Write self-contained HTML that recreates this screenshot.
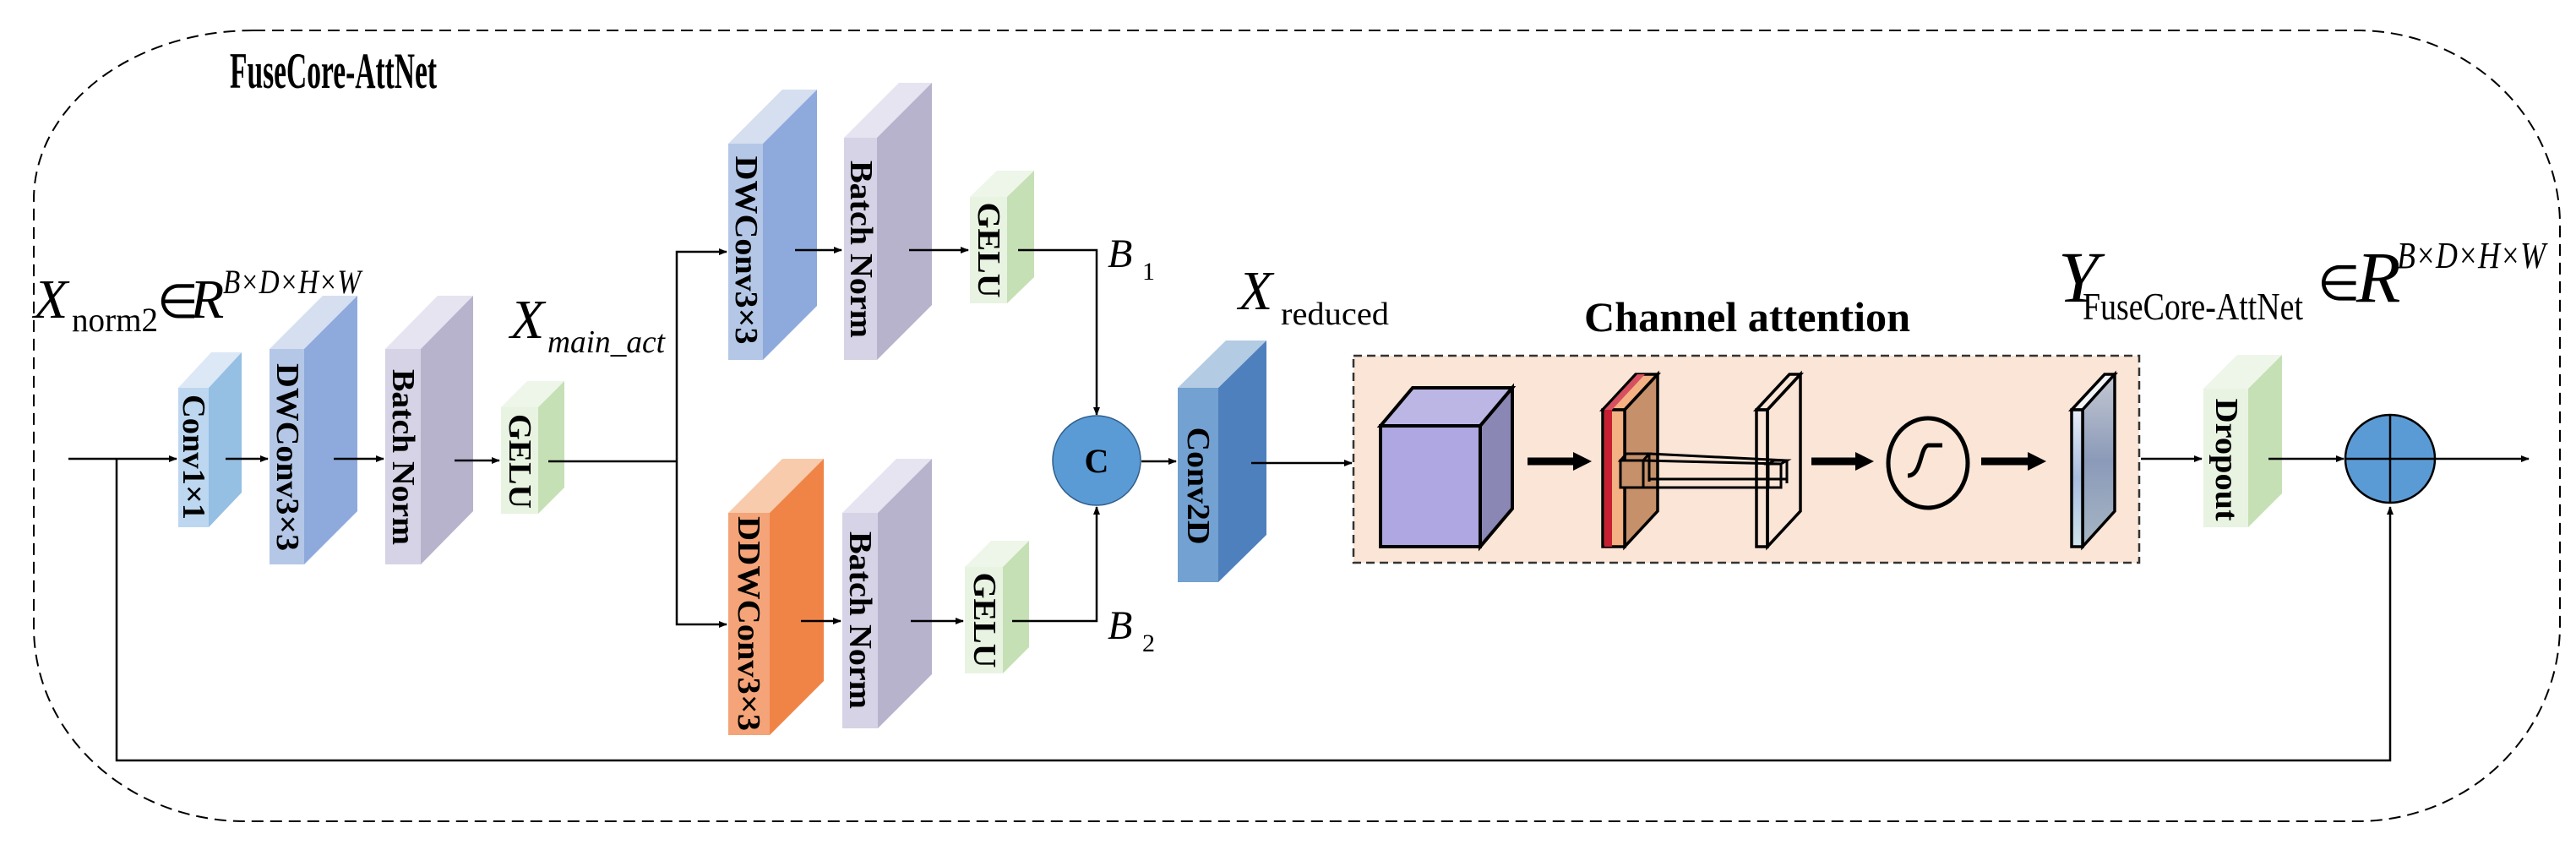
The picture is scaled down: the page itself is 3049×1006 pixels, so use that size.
<!DOCTYPE html>
<html><head><meta charset="utf-8"><style>
html,body{margin:0;padding:0;background:#fff;}
svg{display:block;}
text{font-family:"Liberation Serif","Times New Roman",serif;}
.lbl{font-weight:bold;font-size:38px;}
</style></head><body>
<svg width="3049" height="1006" viewBox="0 0 3049 1006" xmlns="http://www.w3.org/2000/svg">
<defs>
<marker id="ah" markerWidth="10" markerHeight="8" refX="9" refY="4" orient="auto" markerUnits="userSpaceOnUse">
<path d="M0,0 L10,4 L0,8 Z" fill="#000"/></marker>
<marker id="ahb" markerWidth="22" markerHeight="22" refX="4" refY="11" orient="auto" markerUnits="userSpaceOnUse">
<path d="M0,0 L22,11 L0,22 Z" fill="#000"/></marker>
<linearGradient id="gp" x1="0" y1="0" x2="0" y2="1">
<stop offset="0" stop-color="#c4c8d2"/><stop offset="0.5" stop-color="#8b9ab9"/><stop offset="1" stop-color="#a6b6c4"/></linearGradient>
<linearGradient id="gf" x1="0" y1="0" x2="0" y2="1">
<stop offset="0" stop-color="#e6eef8"/><stop offset="0.5" stop-color="#a9bde0"/><stop offset="1" stop-color="#cfe6ec"/></linearGradient>
</defs>

<path d="M300,36 L2790,36 A240,230 0 0 1 3030,266 L3030,740 A240,232 0 0 1 2790,972 L290,972 A250,230 0 0 1 40,742 L40,236 A260,200 0 0 1 300,36 Z" fill="none" stroke="#000" stroke-width="2" stroke-dasharray="14,8"/>

<text x="272" y="104" font-size="60" font-weight="bold" textLength="245" lengthAdjust="spacingAndGlyphs">FuseCore-AttNet</text>

<line x1="81" y1="543" x2="209" y2="543" stroke="#000" stroke-width="2.5" marker-end="url(#ah)"/>
<polyline points="138,543 138,900 2829,900 2829,600" fill="none" stroke="#000" stroke-width="2.5" marker-end="url(#ah)"/>

<polygon points="211,459 250,417 286,417 247,459" fill="#dce8f5"/>
<polygon points="247,459 286,417 286,583 247,624" fill="#95bfe3"/>
<rect x="211" y="459" width="36" height="165" fill="#bcd7ef"/>
<text class="lbl" transform="translate(229,541) rotate(90)" text-anchor="middle" dominant-baseline="central" textLength="148" lengthAdjust="spacingAndGlyphs">Conv1×1</text>
<line x1="267" y1="543" x2="317" y2="543" stroke="#000" stroke-width="2.5" marker-end="url(#ah)"/>

<polygon points="319,413 382,350 423,350 360,413" fill="#d5dff0"/>
<polygon points="360,413 423,350 423,605 360,668" fill="#8eaadc"/>
<rect x="319" y="413" width="41" height="255" fill="#b4c7e7"/>
<text class="lbl" transform="translate(340,541) rotate(90)" text-anchor="middle" dominant-baseline="central" textLength="222" lengthAdjust="spacingAndGlyphs">DWConv3×3</text>
<line x1="395" y1="543" x2="454" y2="543" stroke="#000" stroke-width="2.5" marker-end="url(#ah)"/>

<polygon points="456,413 518,350 560,350 498,413" fill="#e6e4f0"/>
<polygon points="498,413 560,350 560,605 498,668" fill="#b7b3cd"/>
<rect x="456" y="413" width="42" height="255" fill="#d5d3e5"/>
<text class="lbl" transform="translate(477,541) rotate(90)" text-anchor="middle" dominant-baseline="central" textLength="208" lengthAdjust="spacingAndGlyphs">Batch Norm</text>
<line x1="538" y1="545" x2="591" y2="545" stroke="#000" stroke-width="2.5" marker-end="url(#ah)"/>

<polygon points="593,482 624,451 668,451 637,482" fill="#eef6ea"/>
<polygon points="637,482 668,451 668,577 637,608" fill="#c6e0b5"/>
<rect x="593" y="482" width="44" height="126" fill="#e8f3e2"/>
<text class="lbl" transform="translate(615,546) rotate(90)" text-anchor="middle" dominant-baseline="central" textLength="112" lengthAdjust="spacingAndGlyphs">GELU</text>
<line x1="649" y1="546" x2="801" y2="546" stroke="#000" stroke-width="2.5"/>

<text x="40" y="376" font-size="66" font-style="italic">X</text>
<text x="85" y="392" font-size="40" textLength="102" lengthAdjust="spacingAndGlyphs">norm2</text>
<text x="186" y="376" font-size="56">∈</text>
<text x="225" y="376" font-size="66" font-style="italic">R</text>
<text x="264" y="347" font-size="40" font-style="italic" textLength="163" lengthAdjust="spacingAndGlyphs">B×D×H×W</text>

<text x="604" y="400" font-size="66" font-style="italic">X</text>
<text x="648" y="417" font-size="38" font-style="italic" textLength="139" lengthAdjust="spacingAndGlyphs">main_act</text>

<polyline points="801,546 801,298 860,298" fill="none" stroke="#000" stroke-width="2.5" marker-end="url(#ah)"/>
<polyline points="801,546 801,739 860,739" fill="none" stroke="#000" stroke-width="2.5" marker-end="url(#ah)"/>

<polygon points="862,170 926,106 967,106 903,170" fill="#d5dff0"/>
<polygon points="903,170 967,106 967,362 903,426" fill="#8eaadc"/>
<rect x="862" y="170" width="41" height="256" fill="#b4c7e7"/>
<text class="lbl" transform="translate(883,296) rotate(90)" text-anchor="middle" dominant-baseline="central" textLength="223" lengthAdjust="spacingAndGlyphs">DWConv3×3</text>
<line x1="941" y1="296" x2="996" y2="296" stroke="#000" stroke-width="2.5" marker-end="url(#ah)"/>

<polygon points="999,163 1064,98 1103,98 1038,163" fill="#e6e4f0"/>
<polygon points="1038,163 1103,98 1103,361 1038,426" fill="#b7b3cd"/>
<rect x="999" y="163" width="39" height="263" fill="#d5d3e5"/>
<text class="lbl" transform="translate(1019,295) rotate(90)" text-anchor="middle" dominant-baseline="central" textLength="210" lengthAdjust="spacingAndGlyphs">Batch Norm</text>
<line x1="1076" y1="296" x2="1146" y2="296" stroke="#000" stroke-width="2.5" marker-end="url(#ah)"/>

<polygon points="1148,233 1180,202 1224,202 1192,233" fill="#eef6ea"/>
<polygon points="1192,233 1224,202 1224,328 1192,359" fill="#c6e0b5"/>
<rect x="1148" y="233" width="44" height="126" fill="#e8f3e2"/>
<text class="lbl" transform="translate(1170,296) rotate(90)" text-anchor="middle" dominant-baseline="central" textLength="113" lengthAdjust="spacingAndGlyphs">GELU</text>
<polyline points="1205,296 1298,296 1298,491" fill="none" stroke="#000" stroke-width="2.5" marker-end="url(#ah)"/>
<text x="1311" y="316" font-size="48" font-style="italic">B</text>
<text x="1352" y="331" font-size="30">1</text>

<polygon points="862,607 926,543 975,543 911,607" fill="#f8cbad"/>
<polygon points="911,607 975,543 975,806 911,870" fill="#f08447"/>
<rect x="862" y="607" width="49" height="263" fill="#f4a478"/>
<text class="lbl" transform="translate(886,738) rotate(90)" text-anchor="middle" dominant-baseline="central" textLength="254" lengthAdjust="spacingAndGlyphs">DDWConv3×3</text>
<line x1="948" y1="735" x2="995" y2="735" stroke="#000" stroke-width="2.5" marker-end="url(#ah)"/>

<polygon points="997,607 1061,543 1103,543 1039,607" fill="#e6e4f0"/>
<polygon points="1039,607 1103,543 1103,798 1039,862" fill="#b7b3cd"/>
<rect x="997" y="607" width="42" height="255" fill="#d5d3e5"/>
<text class="lbl" transform="translate(1018,734) rotate(90)" text-anchor="middle" dominant-baseline="central" textLength="210" lengthAdjust="spacingAndGlyphs">Batch Norm</text>
<line x1="1078" y1="735" x2="1140" y2="735" stroke="#000" stroke-width="2.5" marker-end="url(#ah)"/>

<polygon points="1142,671 1173,640 1218,640 1187,671" fill="#eef6ea"/>
<polygon points="1187,671 1218,640 1218,766 1187,797" fill="#c6e0b5"/>
<rect x="1142" y="671" width="45" height="126" fill="#e8f3e2"/>
<text class="lbl" transform="translate(1165,734) rotate(90)" text-anchor="middle" dominant-baseline="central" textLength="113" lengthAdjust="spacingAndGlyphs">GELU</text>
<polyline points="1198,735 1298,735 1298,600" fill="none" stroke="#000" stroke-width="2.5" marker-end="url(#ah)"/>
<text x="1311" y="756" font-size="48" font-style="italic">B</text>
<text x="1352" y="771" font-size="30">2</text>

<ellipse cx="1298" cy="545" rx="52" ry="53" fill="#5b9bd5" stroke="#2f5d8a" stroke-width="1.5"/>
<text x="1298" y="559" font-size="40" font-weight="bold" text-anchor="middle">C</text>
<line x1="1351" y1="546" x2="1392" y2="546" stroke="#000" stroke-width="2.5" marker-end="url(#ah)"/>

<polygon points="1394,459 1451,403 1499,403 1442,459" fill="#b3cbe3"/>
<polygon points="1442,459 1499,403 1499,633 1442,689" fill="#4e80bd"/>
<rect x="1394" y="459" width="48" height="230" fill="#73a1d1"/>
<text class="lbl" transform="translate(1418,575) rotate(90)" text-anchor="middle" dominant-baseline="central" textLength="139" lengthAdjust="spacingAndGlyphs">Conv2D</text>
<line x1="1481" y1="548" x2="1600" y2="548" stroke="#000" stroke-width="2.5" marker-end="url(#ah)"/>
<text x="1466" y="366" font-size="66" font-style="italic">X</text>
<text x="1516" y="384" font-size="38" textLength="128" lengthAdjust="spacingAndGlyphs">reduced</text>

<text x="1875" y="392" font-size="50" font-weight="bold" textLength="386" lengthAdjust="spacingAndGlyphs">Channel attention</text>
<rect x="1602" y="421" width="930" height="245" fill="#fae5d6" stroke="#333" stroke-width="2.5" stroke-dasharray="10,6"/>

<g stroke="#000" stroke-width="4" stroke-linejoin="miter">
<polygon points="1634,504 1672,459 1790,459 1752,504" fill="#bbb6e4"/>
<polygon points="1752,504 1790,459 1790,602 1752,647" fill="#8b87b4"/>
<rect x="1634" y="504" width="118" height="143" fill="#aea7e1"/>
</g>
<line x1="1808" y1="546" x2="1866" y2="546" stroke="#000" stroke-width="9" marker-end="url(#ahb)"/>

<g stroke="#000" stroke-width="3.5">
<polygon points="1897,485 1936,443 1962,443 1923,485" fill="#f4b183"/>
<polygon points="1923,485 1962,443 1962,605 1923,647" fill="#c5906a"/>
<rect x="1897" y="485" width="26" height="162" fill="#f4b183"/>
<rect x="1899" y="485" width="9" height="162" fill="#c81e32" stroke="none"/>
<polygon points="1899,485 1938,443 1947,443 1908,485" fill="#d6505f" stroke="none"/>
</g>
<g stroke="#000" stroke-width="3" fill="none">
<rect x="1918" y="545" width="27" height="32" fill="#c5906a"/>
<polygon points="1918,545 1925,537 1952,537 1945,545"/>
<line x1="1952" y1="537" x2="1952" y2="570"/>
<line x1="1952" y1="537" x2="2115" y2="545"/>
<line x1="1945" y1="545" x2="2108" y2="549"/>
<line x1="1952" y1="567" x2="2115" y2="567"/>
<line x1="1945" y1="577" x2="2108" y2="577"/>
<rect x="2093" y="549" width="15" height="28"/>
<polygon points="2093,549 2100,545 2115,545 2108,549"/>
<line x1="2115" y1="545" x2="2115" y2="572"/>
</g>
<g stroke="#000" stroke-width="3.5" fill="none">
<polygon points="2079,485 2118,443 2131,443 2092,485"/>
<polygon points="2092,485 2131,443 2131,605 2092,647"/>
<rect x="2079" y="485" width="13" height="162"/>
</g>
<line x1="2144" y1="546" x2="2200" y2="546" stroke="#000" stroke-width="9" marker-end="url(#ahb)"/>
<ellipse cx="2282" cy="548" rx="47" ry="53" fill="none" stroke="#000" stroke-width="5"/>
<path d="M2258,563 C2275,563 2272,530 2282,527 L2299,527" fill="none" stroke="#000" stroke-width="5"/>
<line x1="2345" y1="546" x2="2404" y2="546" stroke="#000" stroke-width="9" marker-end="url(#ahb)"/>
<g stroke="#000" stroke-width="3.5">
<polygon points="2452,485 2491,443 2503,443 2465,485" fill="#f2f4f8"/>
<polygon points="2465,485 2503,443 2503,605 2465,647" fill="url(#gp)"/>
<rect x="2452" y="485" width="13" height="162" fill="url(#gf)"/>
</g>

<line x1="2534" y1="543" x2="2606" y2="543" stroke="#000" stroke-width="2.5" marker-end="url(#ah)"/>

<polygon points="2608,460 2648,420 2701,420 2661,460" fill="#eef6ea"/>
<polygon points="2661,460 2701,420 2701,584 2661,624" fill="#c6e0b5"/>
<rect x="2608" y="460" width="53" height="164" fill="#e8f3e2"/>
<text class="lbl" transform="translate(2635,544) rotate(90)" text-anchor="middle" dominant-baseline="central" textLength="145" lengthAdjust="spacingAndGlyphs">Dropout</text>
<line x1="2685" y1="543" x2="2774" y2="543" stroke="#000" stroke-width="2.5" marker-end="url(#ah)"/>

<ellipse cx="2829" cy="543" rx="53" ry="52" fill="#5b9bd5" stroke="#000" stroke-width="2.5"/>
<line x1="2776" y1="543" x2="2882" y2="543" stroke="#000" stroke-width="2.5"/>
<line x1="2829" y1="491" x2="2829" y2="595" stroke="#000" stroke-width="2.5"/>
<line x1="2882" y1="543" x2="2993" y2="543" stroke="#000" stroke-width="2.5" marker-end="url(#ah)"/>

<text x="2436" y="357" font-size="86" font-style="italic">Y</text>
<text x="2465" y="378" font-size="46" textLength="261" lengthAdjust="spacingAndGlyphs">FuseCore-AttNet</text>
<text x="2743" y="355" font-size="58">∈</text>
<text x="2789" y="357" font-size="86" font-style="italic">R</text>
<text x="2837" y="317" font-size="44" font-style="italic" textLength="176" lengthAdjust="spacingAndGlyphs">B×D×H×W</text>
</svg>
</body></html>
